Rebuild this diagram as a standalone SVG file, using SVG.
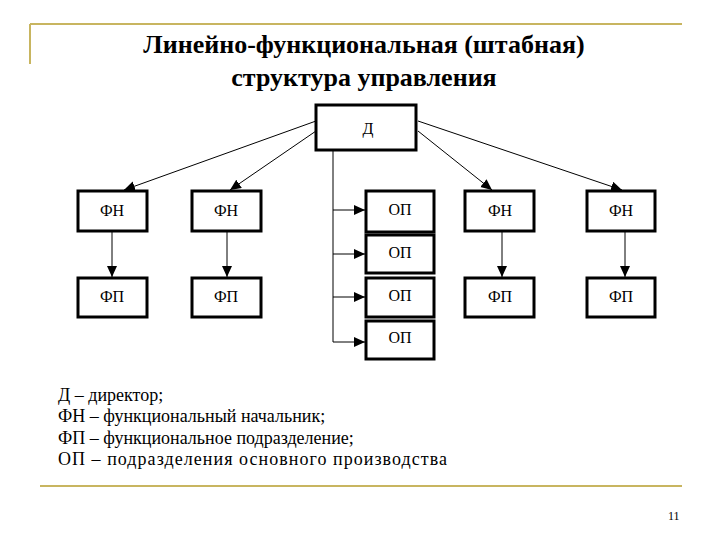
<svg xmlns="http://www.w3.org/2000/svg" width="720" height="540" viewBox="0 0 720 540">
<style>
text{font-family:"Liberation Serif","Times New Roman","DejaVu Serif",serif}
.b{fill:#fff;stroke:#000;stroke-width:3}
.t{font-size:16px;text-anchor:middle}
.c{stroke:#000;stroke-width:1;fill:none}
.lg{font-size:18px}
.ti{font-size:26px;font-weight:bold;text-anchor:middle}
</style>
<defs><marker id="a" markerWidth="12" markerHeight="12" refX="11" refY="5" orient="auto" markerUnits="userSpaceOnUse"><path d="M0,0L11,5L0,10z"/></marker></defs>
<rect width="720" height="540" fill="#fff"/>
<g id="frame" stroke="#c8b560" stroke-width="2">
<line x1="30" y1="24" x2="682" y2="24"/><line x1="30" y1="24" x2="30" y2="64"/><line x1="40" y1="486" x2="682" y2="486"/>
</g>
<g id="title">
<text class="ti" x="364" y="53">Линейно-функциональная (штабная)</text>
<text class="ti" x="364" y="86">структура управления</text>
</g>
<g id="connectors" class="c">
<line x1="316" y1="121" x2="124" y2="190" marker-end="url(#a)"/>
<line x1="316" y1="131" x2="230" y2="190" marker-end="url(#a)"/>
<line x1="418" y1="121" x2="622" y2="190" marker-end="url(#a)"/>
<line x1="418" y1="131" x2="492" y2="190" marker-end="url(#a)"/>
<polyline points="333,150 333,342"/>
<line x1="333" y1="210" x2="365" y2="210" marker-end="url(#a)"/>
<line x1="333" y1="254" x2="365" y2="254" marker-end="url(#a)"/>
<line x1="333" y1="297" x2="365" y2="297" marker-end="url(#a)"/>
<line x1="333" y1="342" x2="365" y2="342" marker-end="url(#a)"/>
<line x1="112" y1="232" x2="112" y2="277" marker-end="url(#a)"/>
<line x1="227" y1="232" x2="227" y2="277" marker-end="url(#a)"/>
<line x1="502" y1="232" x2="502" y2="277" marker-end="url(#a)"/>
<line x1="625" y1="232" x2="625" y2="277" marker-end="url(#a)"/>
</g>
<g id="D"><rect class="b" x="316" y="105" width="100" height="45"/><text class="t" x="368" y="134">Д</text></g>
<g id="FN1"><rect class="b" x="78" y="191" width="69" height="40"/><text class="t" x="112" y="216">ФН</text></g>
<g id="FN2"><rect class="b" x="192" y="191" width="69" height="40"/><text class="t" x="226" y="216">ФН</text></g>
<g id="FN3"><rect class="b" x="465" y="191" width="69" height="40"/><text class="t" x="500" y="216">ФН</text></g>
<g id="FN4"><rect class="b" x="587" y="191" width="68" height="40"/><text class="t" x="621" y="216">ФН</text></g>
<g id="FP1"><rect class="b" x="78" y="278" width="69" height="39"/><text class="t" x="112" y="302">ФП</text></g>
<g id="FP2"><rect class="b" x="192" y="278" width="69" height="39"/><text class="t" x="226" y="302">ФП</text></g>
<g id="FP3"><rect class="b" x="465" y="278" width="69" height="39"/><text class="t" x="500" y="302">ФП</text></g>
<g id="FP4"><rect class="b" x="587" y="278" width="68" height="39"/><text class="t" x="621" y="302">ФП</text></g>
<g id="OP1"><rect class="b" x="366" y="191" width="68" height="41"/><text class="t" x="400" y="215">ОП</text></g>
<g id="OP2"><rect class="b" x="366" y="235" width="68" height="38"/><text class="t" x="400" y="258">ОП</text></g>
<g id="OP3"><rect class="b" x="366" y="278" width="68" height="39"/><text class="t" x="400" y="301">ОП</text></g>
<g id="OP4"><rect class="b" x="366" y="321" width="68" height="38"/><text class="t" x="400" y="343">ОП</text></g>
<g id="legend" class="lg">
<text x="58" y="401">Д – директор;</text>
<text x="58" y="422">ФН – функциональный начальник;</text>
<text x="58" y="444">ФП – функциональное подразделение;</text>
<text x="58" y="465" textLength="389">ОП – подразделения основного производства</text>
</g>
<text x="668" y="520" font-size="12">11</text>
</svg>
